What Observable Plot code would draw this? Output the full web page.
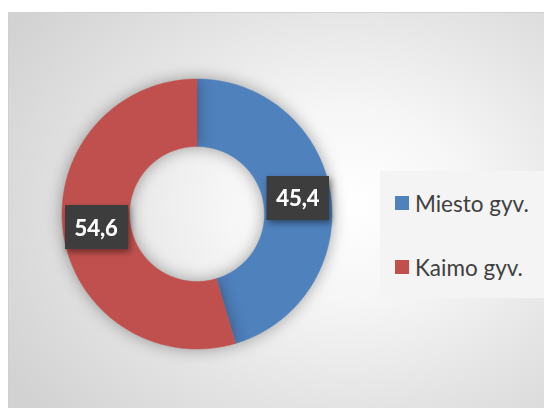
<!DOCTYPE html>
<html>
<head>
<meta charset="utf-8">
<script src="https://cdn.jsdelivr.net/npm/d3@7"></script>
<script src="https://cdn.jsdelivr.net/npm/@observablehq/plot@0.6"></script>
<style>
  html, body { margin: 0; padding: 0; background: #ffffff; }
  #wrap { position: relative; width: 544px; height: 408px; overflow: hidden; font-family: Lato, "Open Sans", sans-serif; }
  #area { position: absolute; left: 8px; top: 12px; width: 540px; height: 400px; box-sizing: border-box;
          border: 1px solid #d0d0d0;
          background: radial-gradient(ellipse 75% 80% at 63% 48%, #ffffff 0%, #f6f6f6 30%, #e3e3e3 65%, #d2d2d2 100%); }
  #chart { position: absolute; left: 0; top: 0; }
  #legend { position: absolute; left: 380px; top: 171px; width: 164px; height: 127px; background: #f4f4f4; }
  .item { position: absolute; left: 15px; height: 26px; display: flex; align-items: center; color: #404040; font-size: 22.5px; white-space: nowrap; }
  .sw { width: 14px; height: 14px; margin-right: 6px; }
</style>
</head>
<body>
<div id="wrap">
  <div id="area"></div>
  <div id="chart"></div>
  <div id="legend"></div>
</div>
<script>
const categories = ["Miesto gyv.", "Kaimo gyv."];
const values = [45.4, 54.6];
const colors = ["#4F81BD", "#C0504D"];

// layout (pixels)
const cx = 196.5, cy = 213.5, R = 135, innerFrac = 0.5;

const pie = d3.pie().sort(null).value(d => d.value)(categories.map((c, i) => ({cat: c, value: values[i]})));

function slicePoints(a0, a1) {
  const pts = [];
  const n = Math.max(8, Math.ceil((a1 - a0) / (Math.PI / 180)));
  for (let k = 0; k <= n; k++) { const a = a0 + (a1 - a0) * k / n; pts.push({x: Math.sin(a), y: Math.cos(a)}); }
  for (let k = n; k >= 0; k--) { const a = a0 + (a1 - a0) * k / n; pts.push({x: innerFrac * Math.sin(a), y: innerFrac * Math.cos(a)}); }
  return pts;
}

const rMid = 0.755;
const labels = pie.map(p => {
  const a = (p.startAngle + p.endAngle) / 2;
  return {x: rMid * Math.sin(a), y: rMid * Math.cos(a), text: String(p.data.value).replace(".", ",")};
});

const marks = pie.map((p, i) => Plot.line(slicePoints(p.startAngle, p.endAngle), {
  x: "x", y: "y", fill: colors[i], stroke: colors[i], strokeWidth: 0.5, curve: "linear-closed"
}));
marks.push(Plot.text(labels, {x: "x", y: "y", text: "text", fill: "white", fontSize: 22, fontWeight: "bold", fontFamily: "Lato, 'Open Sans', sans-serif"}));

const svg = Plot.plot({
  width: 544, height: 408, margin: 0,
  style: {background: "transparent", overflow: "visible"},
  x: {domain: [-1, 1], range: [cx - R, cx + R], axis: null},
  y: {domain: [-1, 1], range: [cy + R, cy - R], axis: null},
  marks
});

const defs = d3.select(svg).insert("defs", ":first-child");
const f = defs.append("filter").attr("id", "lblbox").attr("x", -0.21).attr("y", -0.3).attr("width", 1.42).attr("height", 1.6);
f.append("feFlood").attr("flood-color", "#3c3c3c").attr("result", "bg");
const m = f.append("feMerge");
m.append("feMergeNode").attr("in", "bg");
m.append("feMergeNode").attr("in", "SourceGraphic");

d3.select(svg).selectAll("g[aria-label='line']").style("filter", "drop-shadow(0px 0px 8px rgba(0,0,0,0.35))");
d3.select(svg).selectAll("g[aria-label='text'] text").attr("filter", "url(#lblbox)");
d3.select(svg).selectAll("g[aria-label='text']").style("filter", "drop-shadow(2px 3px 3px rgba(0,0,0,0.45))");

document.getElementById("chart").appendChild(svg);

const legend = d3.select("#legend");
const tops = [19, 83];
categories.forEach((c, i) => {
  const it = legend.append("div").attr("class", "item").style("top", tops[i] + "px");
  it.append("div").attr("class", "sw").style("background", colors[i]);
  it.append("span").text(c);
});
</script>
</body>
</html>
